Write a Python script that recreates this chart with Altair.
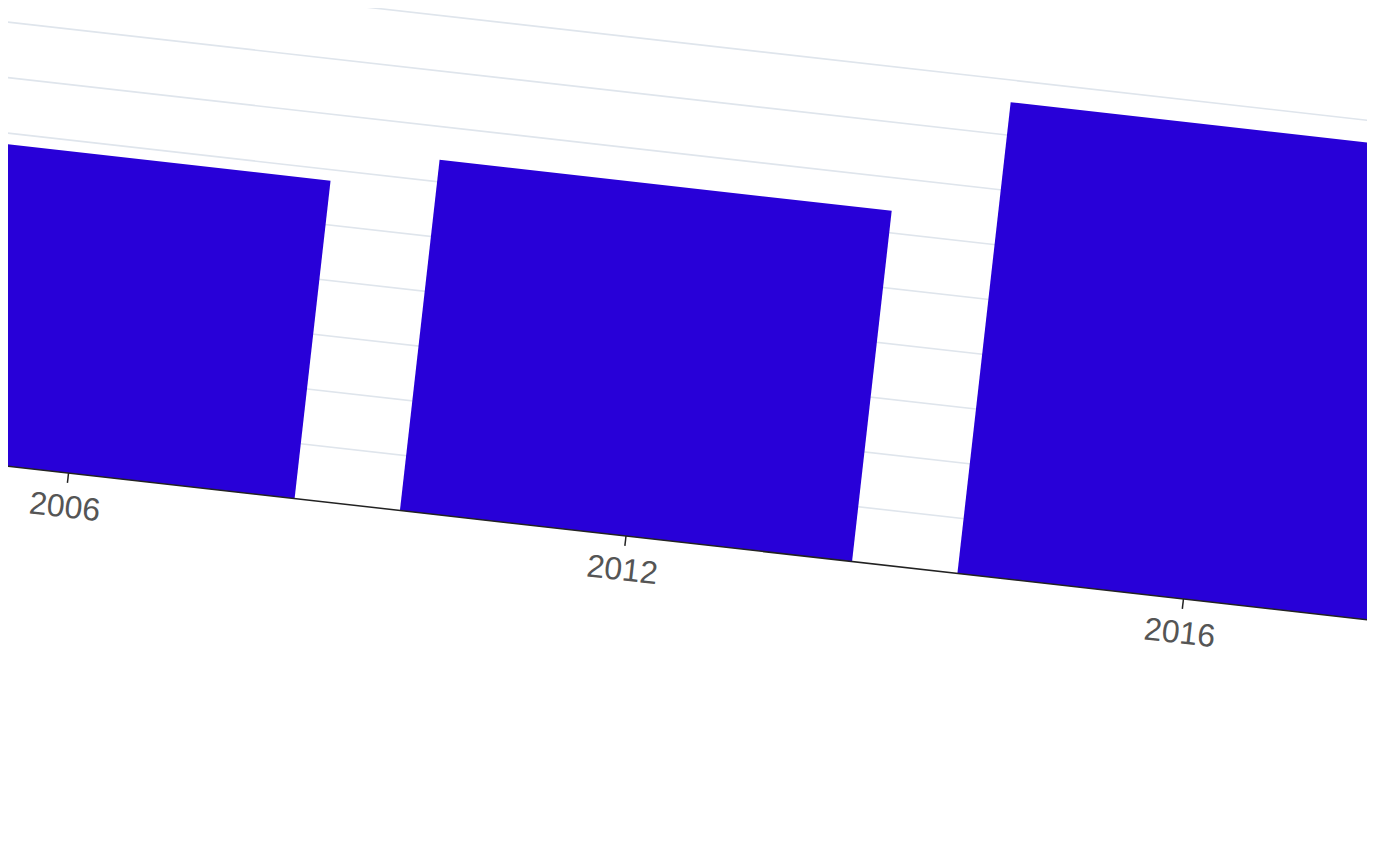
import math
import altair as alt
import pandas as pd

# ---- data ----
years = ["2006", "2012", "2016"]
values = [58, 64, 86]
grid_values = [0, 10, 20, 30, 40, 50, 60, 70, 80, 90]

# ---- view geometry (the chart is seen tilted and zoomed in) ----
W, H = 1359, 845
ANG = 6.45
C = math.cos(math.radians(ANG))
S = math.sin(math.radians(ANG))
OX, OY = 618, 528          # middle category on the baseline
STEP = 561                 # band step
BW = 455                   # bar width
PXU = 5.515                # pixels per value unit
TICK = 10
LAB = 34.5
HALF = len(years) * STEP / 2


def X(u, h):
    return f"{OX} + ({u})*{C} + ({h})*{S}"


def Y(u, h):
    return f"{OY} + ({u})*{S} - ({h})*{C}"


xs = alt.Scale(domain=[0, W], nice=False, zero=False)
ys = alt.Scale(domain=[0, H], nice=False, zero=False, reverse=True)

bars_df = pd.DataFrame({"year": years, "value": values})
grid_df = pd.DataFrame({"v": grid_values})

cat = (
    alt.Chart(bars_df)
    .transform_window(idx="row_number()")
    .transform_joinaggregate(n="count()")
    .transform_calculate(u=f"(datum.idx - (datum.n + 1) / 2) * {STEP}")
    .transform_calculate(h=f"datum.value * {PXU}")
)

bars = cat.transform_calculate(
    x=X("datum.u", 0), y=Y("datum.u", 0),
    x2=X("datum.u", "datum.h"), y2=Y("datum.u", "datum.h"),
).mark_rule(strokeWidth=BW, color="#2800d8", clip=True).encode(
    x=alt.X("x:Q", scale=xs, axis=None),
    y=alt.Y("y:Q", scale=ys, axis=None),
    x2="x2:Q", y2="y2:Q",
)

ticks = cat.transform_calculate(
    x=X("datum.u", 0), y=Y("datum.u", 0),
    x2=X("datum.u", -TICK), y2=Y("datum.u", -TICK),
).mark_rule(strokeWidth=1.5, color="#222222", clip=True).encode(
    x=alt.X("x:Q", scale=xs, axis=None),
    y=alt.Y("y:Q", scale=ys, axis=None),
    x2="x2:Q", y2="y2:Q",
)

labels = cat.transform_calculate(
    x=X("datum.u", -LAB), y=Y("datum.u", -LAB),
).mark_text(
    angle=ANG, align="center", baseline="middle", font="Liberation Sans",
    fontSize=32, color="#555555", clip=True,
).encode(
    x=alt.X("x:Q", scale=xs, axis=None),
    y=alt.Y("y:Q", scale=ys, axis=None),
    text="year:N",
)

gbase = alt.Chart(grid_df).transform_calculate(
    h=f"datum.v * {PXU}"
).transform_calculate(
    x=X(-HALF, "datum.h"), y=Y(-HALF, "datum.h"),
    x2=X(HALF, "datum.h"), y2=Y(HALF, "datum.h"),
)

grid = gbase.transform_filter("datum.v > 0").mark_rule(
    strokeWidth=1.6, color="#dfe5ec", clip=True
).encode(
    x=alt.X("x:Q", scale=xs, axis=None),
    y=alt.Y("y:Q", scale=ys, axis=None),
    x2="x2:Q", y2="y2:Q",
)

domain = gbase.transform_filter("datum.v == 0").mark_rule(
    strokeWidth=1.5, color="#222222", clip=True
).encode(
    x=alt.X("x:Q", scale=xs, axis=None),
    y=alt.Y("y:Q", scale=ys, axis=None),
    x2="x2:Q", y2="y2:Q",
)

chart = (
    alt.layer(grid, bars, domain, ticks, labels)
    .properties(width=W, height=H, padding=0,
                autosize=alt.AutoSizeParams(type="none"),
                background="white")
    .configure_view(strokeWidth=0)
)

chart.save("out.html", embed_options={"renderer": "svg", "actions": False})
